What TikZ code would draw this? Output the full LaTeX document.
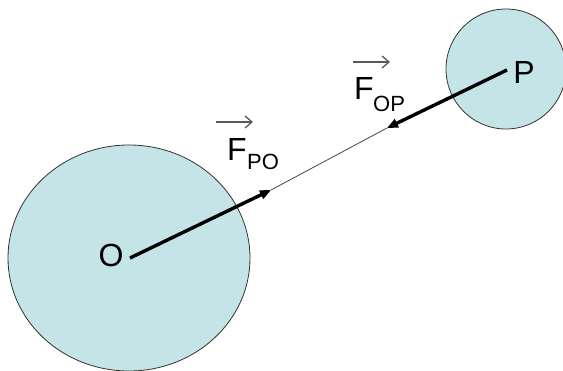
\documentclass[tikz,border=0pt]{standalone}
\usepackage{fontspec}
\setmainfont{Liberation Sans}
\usetikzlibrary{arrows.meta}
\definecolor{bodyfill}{RGB}{196,228,232}
\begin{document}
\begin{tikzpicture}[x=1pt,y=-1pt,
  body/.style={draw=black!80,line width=0.8pt,fill=bodyfill},
  force/.style={line width=3.4pt,-{Triangle[length=11pt,width=9pt]}},
  link/.style={line width=0.7pt,black!80},
  lbl/.style={inner sep=0pt,font=\fontsize{32}{36}\selectfont},
  sub/.style={inner sep=0pt,font=\fontsize{22}{26}\selectfont},
  vecarrow/.style={line width=1.3pt,black!65,-{Straight Barb[length=7pt,width=12pt]}}]
\useasboundingbox (0,0) rectangle (563,371);
\clip (0,0) rectangle (563,371);
\fill[white] (0,0) rectangle (563,371);
% bodies
\draw[body] (129,258) ellipse [x radius=121pt, y radius=113pt];
\draw[body] (506,69) circle [radius=60pt];
\node (bigO) at (129,258) {};
\node (smallP) at (506,69) {};
% points
\coordinate (o) at (130,258);
\coordinate (tpo) at (271,190);
\coordinate (top) at (387,128);
\coordinate (p) at (507,70);
% labels
\node[lbl] (lO) at (111,255) {O};
\node[lbl] (lP) at (524,72) {P};
% connector and forces
\draw[link] (tpo) -- (top);
\draw[force] (o) -- (tpo);
\draw[force] (p) -- (top);
% force labels
\node[lbl,anchor=north west] (fop) at (354,77) {F};
\node[sub,anchor=north west] (fopsub) at (373,96) {OP};
\coordinate (aop1) at (353,62);
\coordinate (aop2) at (390,62);
\draw[vecarrow] (aop1) -- (aop2);
\node[lbl,anchor=north west] (fpo) at (227,138) {F};
\node[sub,anchor=north west] (fposub) at (247,154) {PO};
\coordinate (apo1) at (216,122);
\coordinate (apo2) at (253,122);
\draw[vecarrow] (apo1) -- (apo2);
\end{tikzpicture}
\end{document}
